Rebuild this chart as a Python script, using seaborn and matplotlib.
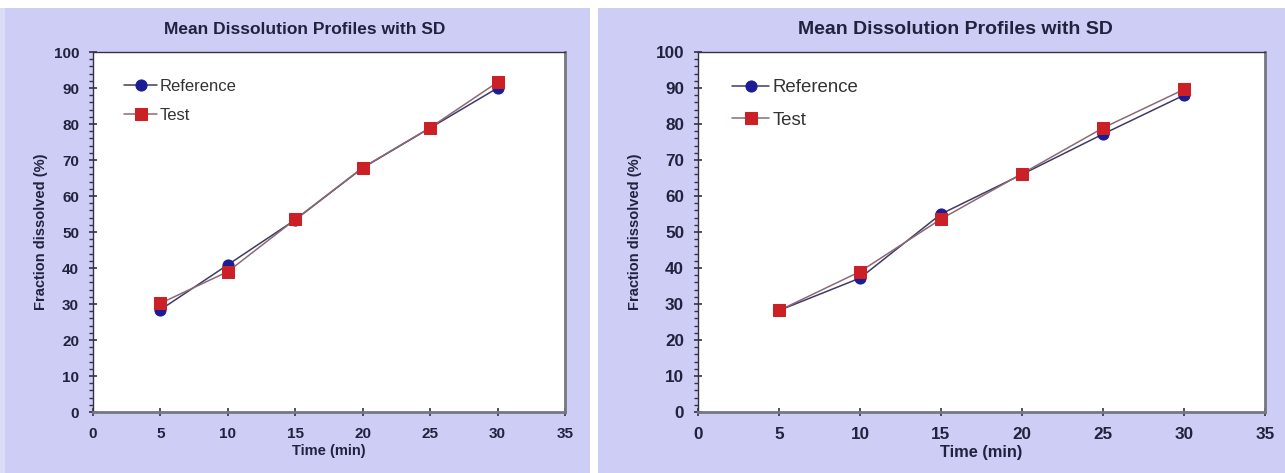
import numpy as np
import pandas as pd
import matplotlib
matplotlib.use("Agg")
import matplotlib.pyplot as plt
from matplotlib.patches import Rectangle
from matplotlib.ticker import MultipleLocator
import seaborn as sns

# data
time_min = [5, 10, 15, 20, 25, 30]
left_reference = [28.4, 40.9, 53.4, 67.8, 78.9, 90.0]
left_test = [30.2, 39.0, 53.5, 67.9, 79.0, 91.6]
right_reference = [28.2, 37.2, 55.0, 66.0, 77.2, 88.0]
right_test = [28.2, 39.0, 53.6, 66.2, 78.9, 89.6]

title = "Mean Dissolution Profiles with SD"
x_label = "Time (min)"
y_label = "Fraction dissolved (%)"

panel_bg = "#cdcdf6"
text_col = "#22223f"

sns.set_theme(style="white")
plt.rcParams["font.family"] = ["Liberation Sans", "DejaVu Sans"]

W, H = 1285, 473
fig = plt.figure(figsize=(W / 100, H / 100), dpi=100)
fig.patch.set_facecolor("white")

# lavender panels behind each chart
fig.patches.append(Rectangle((0, 0), 5 / W, 1 - 8 / H, transform=fig.transFigure,
                             facecolor="#dcdcf6", edgecolor="none", zorder=-2))
fig.patches.append(Rectangle((5 / W, 0), 585 / W, 1 - 8 / H, transform=fig.transFigure,
                             facecolor=panel_bg, edgecolor="none", zorder=-2))
fig.patches.append(Rectangle((598 / W, 0), 687 / W, 1 - 8 / H, transform=fig.transFigure,
                             facecolor=panel_bg, edgecolor="none", zorder=-2))


def px_axes(x0, x1, y_top, y_bot):
    return fig.add_axes([x0 / W, 1 - y_bot / H, (x1 - x0) / W, (y_bot - y_top) / H])


def draw_panel(ax, ref_vals, test_vals, title_x, s, ylab_pad, leg_x):
    df = pd.DataFrame({"time": time_min, "Reference": ref_vals, "Test": test_vals})
    sns.lineplot(data=df, x="time", y="Reference", ax=ax, color="#3c3c66", lw=1.1,
                 marker="o", markersize=8, markerfacecolor="#1c1c96",
                 markeredgecolor="#1c1c96", label="Reference")
    sns.lineplot(data=df, x="time", y="Test", ax=ax, color="#8c6a74", lw=1.1,
                 marker="s", markersize=8, markerfacecolor="#cc2027",
                 markeredgecolor="#cc2027", label="Test")

    ax.set_facecolor("white")
    ax.set_xlim(0, 35)
    ax.set_ylim(0, 100)
    ax.xaxis.set_major_locator(MultipleLocator(5))
    ax.yaxis.set_major_locator(MultipleLocator(10))
    ax.yaxis.set_minor_locator(MultipleLocator(2))
    ax.tick_params(axis="both", which="major", direction="inout", length=6, width=1.2,
                   color="#333344", labelsize=11 * s, labelcolor=text_col,
                   left=True, bottom=True)
    ax.tick_params(axis="x", which="major", pad=8)
    ax.tick_params(axis="y", which="major", pad=7)
    ax.tick_params(axis="y", which="minor", direction="out", length=3, width=1,
                   color="#333344", left=True)
    for lab in ax.get_xticklabels() + ax.get_yticklabels():
        lab.set_fontweight("bold")

    ax.spines["left"].set_color("#333344")
    ax.spines["left"].set_linewidth(1)
    ax.spines["top"].set_color("#333344")
    ax.spines["top"].set_linewidth(1)
    ax.spines["bottom"].set_color("#777780")
    ax.spines["bottom"].set_linewidth(2)
    ax.spines["right"].set_color("#777780")
    ax.spines["right"].set_linewidth(2)

    ax.set_xlabel(x_label, fontsize=10.5 * s, fontweight="bold", color=text_col, labelpad=2)
    ax.set_ylabel(y_label, fontsize=10.5, fontweight="bold", color=text_col,
                  labelpad=ylab_pad)

    leg = ax.legend(loc="upper left", frameon=False, fontsize=12 * s, handlelength=2.0,
                    handletextpad=0.15, labelspacing=0.85, borderaxespad=0,
                    borderpad=0, bbox_to_anchor=(leg_x, 0.925))
    for t in leg.get_texts():
        t.set_color("#333333")

    fig.text(title_x / W, 1 - 29 / H, title, ha="center", va="center",
             fontsize=12.5 * s, fontweight="bold", color=text_col)


ax_left = px_axes(93, 565, 52, 412)
draw_panel(ax_left, left_reference, left_test, 305, 1.0, 4, 0.066)

ax_right = px_axes(698, 1265, 52, 412)
draw_panel(ax_right, right_reference, right_test, 955, 1.12, 10, 0.06)

fig.savefig("out.png", dpi=100, facecolor=fig.get_facecolor())
